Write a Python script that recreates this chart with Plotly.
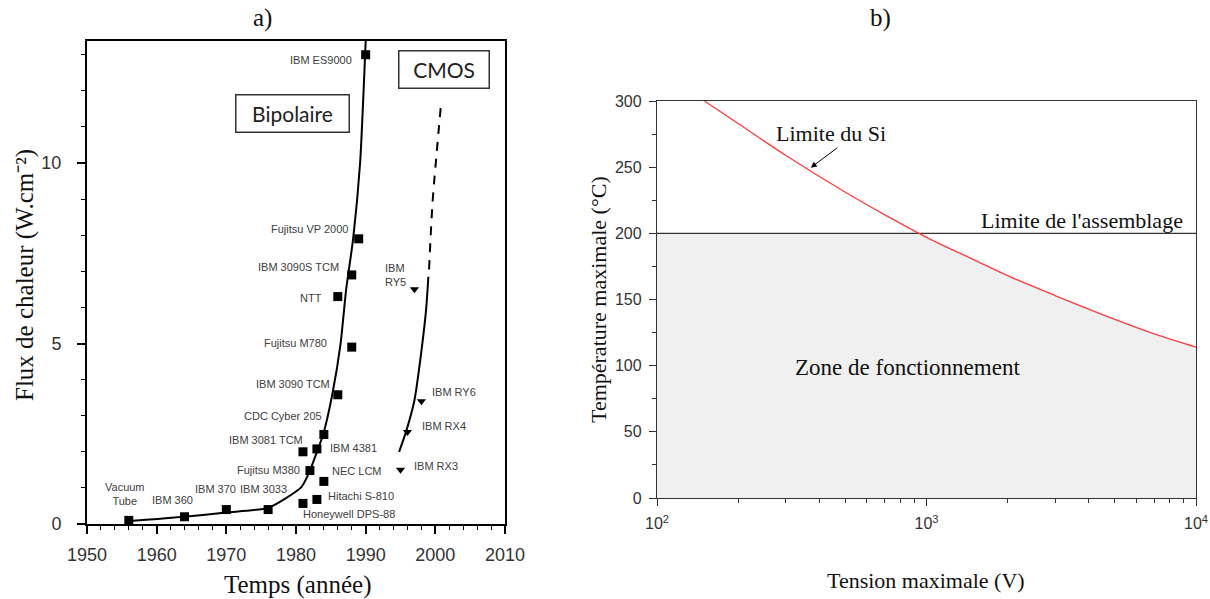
import numpy as np
import plotly.graph_objects as go

# ---------------- Panel a) data ----------------
bip_names = ["Vacuum<br>Tube", "IBM 360", "IBM 370", "IBM 3033", "Honeywell DPS-88",
             "Hitachi S-810", "Fujitsu M380", "IBM 3081 TCM", "IBM 4381", "NEC LCM",
             "CDC Cyber 205", "IBM 3090 TCM", "Fujitsu M780", "NTT", "IBM 3090S TCM",
             "Fujitsu VP 2000", "IBM ES9000"]
bip_years = [1956, 1964, 1970, 1976, 1981, 1983, 1982, 1981, 1983, 1984, 1984, 1986,
             1988, 1986, 1988, 1989, 1990]
bip_flux = [0.1, 0.2, 0.4, 0.4, 0.57, 0.68, 1.48, 2.0, 2.08, 1.18, 2.48, 3.58, 4.9,
            6.3, 6.9, 7.9, 13.0]

cmos_names = ["IBM<br>RY5", "IBM RY6", "IBM RX4", "IBM RX3"]
cmos_years = [1997, 1998, 1996, 1995]
cmos_flux = [6.5, 3.4, 2.55, 1.5]

bip_trend_x = [1956, 1964, 1970, 1976, 1980.8, 1982, 1983, 1983.9, 1985.2, 1986.4,
               1987.2, 1988.2, 1989.2, 1990.0]
bip_trend_y = [0.08, 0.2, 0.32, 0.45, 1.03, 1.48, 2.0, 2.48, 3.58, 5.0, 6.5, 7.9,
               10.0, 13.38]
cmos_solid_x = [1994.8, 1995.8, 1997.0, 1998.2, 1998.7, 1999.0]
cmos_solid_y = [2.0, 2.56, 3.43, 5.1, 6.0, 6.85]
cmos_dash_x = [1999.1, 1999.6, 2000.2, 2000.8]
cmos_dash_y = [7.05, 8.9, 10.3, 11.6]

year_ticks = [1950, 1960, 1970, 1980, 1990, 2000, 2010]
flux_ticks = [0, 5, 10]

# ---------------- Panel b) data ----------------
volt = [150, 200, 300, 500, 700, 1000, 1500, 2000, 3000, 5000, 7000, 10000]
temp_si = [300, 283, 259, 231, 214, 197, 180, 168, 153, 135, 124, 114]
assembly_limit = 200
volt_span = [100, 10000]
volt_ticks = [100, 1000, 10000]
volt_ticktext = ["10<sup>2</sup>", "10<sup>3</sup>", "10<sup>4</sup>"]
temp_ticks = [0, 50, 100, 150, 200, 250, 300]

# label anchor positions (layout only)
bip_label_pos = [(1955.5, 0.83), (1962.3, 0.66), (1968.5, 0.97), (1975.4, 0.97),
                 (1987.6, 0.28), (1989.3, 0.78), (1976.0, 1.50), (1975.7, 2.33),
                 (1988.3, 2.11), (1988.8, 1.47), (1978.1, 2.99), (1979.6, 3.88),
                 (1979.9, 5.01), (1982.2, 6.26), (1980.3, 7.12), (1981.9, 8.17),
                 (1983.6, 12.85)]
cmos_label_pos = [(1992.5, 6.9, "left"), (2002.7, 3.66, "center"),
                  (2001.2, 2.71, "center"), (2000.1, 1.61, "center")]

W, H = 1210, 599
SANS = "Liberation Sans, Arial, sans-serif"
SERIF = "Liberation Serif, Times New Roman, serif"

fig = go.Figure()

# ---- panel a traces ----
fig.add_trace(go.Scatter(x=bip_trend_x, y=bip_trend_y, mode="lines",
                         line=dict(color="black", width=2, shape="spline", smoothing=0.6),
                         xaxis="x", yaxis="y", showlegend=False, hoverinfo="skip"))
fig.add_trace(go.Scatter(x=cmos_solid_x, y=cmos_solid_y, mode="lines",
                         line=dict(color="black", width=2, shape="spline", smoothing=0.6),
                         xaxis="x", yaxis="y", showlegend=False, hoverinfo="skip"))
fig.add_trace(go.Scatter(x=cmos_dash_x, y=cmos_dash_y, mode="lines",
                         line=dict(color="black", width=2, dash="9px,8px", shape="spline"),
                         xaxis="x", yaxis="y", showlegend=False, hoverinfo="skip"))
fig.add_trace(go.Scatter(x=bip_years, y=bip_flux, mode="markers",
                         marker=dict(symbol="square", size=9, color="black"),
                         xaxis="x", yaxis="y", showlegend=False, text=bip_names))
fig.add_trace(go.Scatter(x=cmos_years, y=cmos_flux, mode="markers",
                         marker=dict(symbol="triangle-down", size=8, color="black"),
                         xaxis="x", yaxis="y", showlegend=False, text=cmos_names))

# ---- panel b traces ----
lv = np.log10(volt)
t = np.array(temp_si, dtype=float)
idx = np.where(t < assembly_limit)[0][0]
frac = (t[idx - 1] - assembly_limit) / (t[idx - 1] - t[idx])
v_cross = 10 ** (lv[idx - 1] + frac * (lv[idx] - lv[idx - 1]))
fill_x = [volt_span[0], v_cross] + list(np.array(volt)[idx:])
fill_y = [assembly_limit, assembly_limit] + list(t[idx:])
fig.add_trace(go.Scatter(x=fill_x, y=fill_y, mode="lines", fill="tozeroy",
                         fillcolor="#f0f0f0", line=dict(width=0),
                         xaxis="x2", yaxis="y2", showlegend=False, hoverinfo="skip"))
fig.add_trace(go.Scatter(x=volt_span, y=[assembly_limit, assembly_limit], mode="lines",
                         line=dict(color="#333333", width=1.3),
                         xaxis="x2", yaxis="y2", showlegend=False, hoverinfo="skip"))
fig.add_trace(go.Scatter(x=volt, y=temp_si, mode="lines",
                         line=dict(color="#ff3b3b", width=1.3, shape="spline"),
                         xaxis="x2", yaxis="y2", showlegend=False))

# ---- annotations ----
ann = []
for name, (px, py) in zip(bip_names, bip_label_pos):
    ann.append(dict(x=px, y=py, xref="x", yref="y", text=name, showarrow=False,
                    font=dict(family=SANS, size=11, color="#404040"), align="center"))
for name, (px, py, al) in zip(cmos_names, cmos_label_pos):
    ann.append(dict(x=px, y=py, xref="x", yref="y", text=name, showarrow=False,
                    xanchor="left" if al == "left" else "center", align=al,
                    font=dict(family=SANS, size=11, color="#404040")))
# boxes
ann.append(dict(x=1979.5, y=11.37, xref="x", yref="y", text="Bipolaire", showarrow=False,
                font=dict(family="Lato, Open Sans, sans-serif", size=21, color="#222"),
                bordercolor="#333", borderwidth=1.5, width=112, height=36, borderpad=0,
                bgcolor="white"))
ann.append(dict(x=2001.2, y=12.59, xref="x", yref="y", text="CMOS", showarrow=False,
                font=dict(family="Lato, Open Sans, sans-serif", size=21, color="#222"),
                bordercolor="#333", borderwidth=1.5, width=89, height=36, borderpad=0,
                bgcolor="white"))


def paper_text(px, py, text, size, angle=0):
    return dict(x=px / W, y=1 - py / H, xref="paper", yref="paper", text=text,
                xanchor="center", yanchor="middle", textangle=angle, showarrow=False,
                font=dict(family=SERIF, size=size, color="#111"))


ann.append(paper_text(262, 18, "a)", 25))
ann.append(paper_text(880, 18, "b)", 25))
ann.append(paper_text(298, 585, "Temps (année)", 25))
ann.append(paper_text(25, 275, "Flux de chaleur (W.cm⁻²)", 25, -90))
ann.append(paper_text(926, 580, "Tension maximale (V)", 22))
ann.append(paper_text(598, 300, "Température maximale (°C)", 22, -90))

# panel b labels
ann.append(dict(x=np.log10(372), y=249.6, xref="x2", yref="y2", text="",
                showarrow=True, ax=28, ay=-21, arrowhead=2, arrowsize=1.2,
                arrowwidth=1, arrowcolor="black"))
ann.append(dict(x=2.646, y=275.5, xref="x2", yref="y2", text="Limite du Si",
                showarrow=False, font=dict(family=SERIF, size=22, color="#111")))
ann.append(dict(x=3.959, y=210, xref="x2", yref="y2", text="Limite de l'assemblage",
                xanchor="right", showarrow=False,
                font=dict(family=SERIF, size=22, color="#111")))
ann.append(dict(x=2.931, y=98.9, xref="x2", yref="y2", text="Zone de fonctionnement",
                showarrow=False, font=dict(family=SERIF, size=23, color="#111")))

fig.update_layout(
    width=W, height=H, margin=dict(l=0, r=0, t=0, b=0, autoexpand=False),
    paper_bgcolor="white", plot_bgcolor="white", showlegend=False,
    annotations=ann,
    xaxis=dict(domain=[87 / W, 505 / W], anchor="y", range=[1950, 2010], automargin=False,
               tickvals=year_ticks, ticks="outside", ticklen=8, tickwidth=1.5,
               tickcolor="black", linecolor="black", linewidth=2, mirror=True,
               showgrid=False, zeroline=False, ticklabelstandoff=5,
               tickfont=dict(family=SANS, size=18, color="#333"),
               minor=dict(ticks="outside", ticklen=4, dtick=2, tickcolor="black",
                          tickwidth=1, showgrid=False)),
    yaxis=dict(domain=[(H - 524) / H, (H - 41) / H], anchor="x", range=[0, 13.38],
               automargin=False,
               tickvals=flux_ticks, ticks="outside", ticklen=8, tickwidth=1.5,
               tickcolor="black", linecolor="black", linewidth=2, mirror=True,
               showgrid=False, zeroline=False, ticklabelstandoff=12,
               tickfont=dict(family=SANS, size=18, color="#333"),
               minor=dict(ticks="outside", ticklen=4, dtick=1, tickcolor="black",
                          tickwidth=1, showgrid=False)),
    xaxis2=dict(domain=[657 / W, 1196 / W], anchor="y2", type="log", range=[2, 4],
                automargin=False,
                tickvals=volt_ticks, ticktext=volt_ticktext, ticks="outside",
                ticklen=7, tickwidth=1, tickcolor="#333", linecolor="#333",
                linewidth=1.3, mirror=True, showgrid=False, zeroline=False,
                ticklabelstandoff=4,
                tickfont=dict(family=SANS, size=16, color="#333"),
                minor=dict(ticks="outside", ticklen=4, tickcolor="#333", showgrid=False,
                           tickvals=[m * d for d in (100, 1000) for m in range(2, 10)])),
    yaxis2=dict(domain=[(H - 498) / H, (H - 101) / H], anchor="x2", range=[0, 300],
                automargin=False,
                tickvals=temp_ticks, ticks="outside", ticklen=7, tickwidth=1,
                tickcolor="#333", linecolor="#333", linewidth=1.3, mirror=True,
                showgrid=False, zeroline=False, ticklabelstandoff=4,
                tickfont=dict(family=SANS, size=16, color="#333"),
                minor=dict(ticks="outside", ticklen=4, dtick=25, tickcolor="#333",
                           showgrid=False)),
)

fig.write_html("out.html", config={"displayModeBar": False},
               post_script="document.body.style.margin='0px';"
                           "document.body.style.overflow='hidden';")
